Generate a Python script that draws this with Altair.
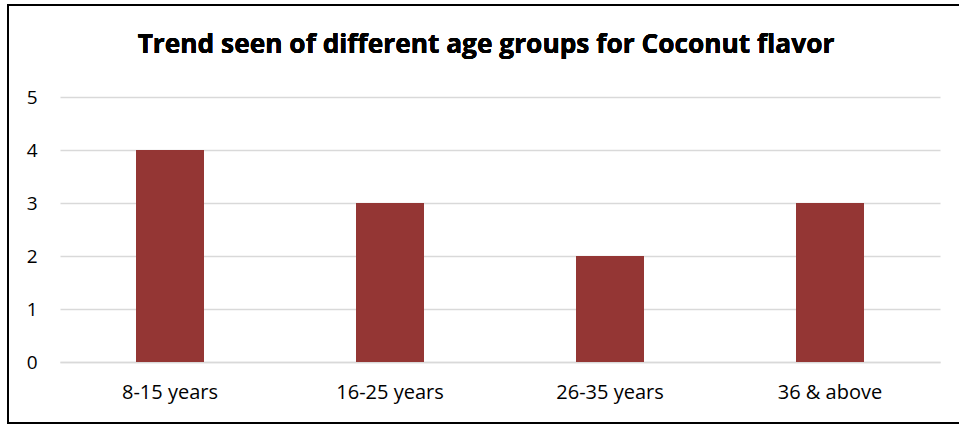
import altair as alt
import pandas as pd

categories = ["8-15 years", "16-25 years", "26-35 years", "36 & above"]
values = [4, 3, 2, 3]
title_text = "Trend seen of different age groups for Coconut flavor"

df = pd.DataFrame({"group": categories, "count": values})

FONT = "Open Sans"

bars = alt.Chart(df).mark_bar(color="#943634", size=68).encode(
    x=alt.X("group:N", sort=categories, title=None,
            scale=alt.Scale(paddingInner=0, paddingOuter=0),
            axis=alt.Axis(labelAngle=0, ticks=False, domain=True, domainColor="#d9d9d9",
                          domainWidth=1.5, labelPadding=20, labelFontSize=20,
                          labelColor="#000000", labelFont=FONT, grid=False)),
    y=alt.Y("count:Q", title=None,
            scale=alt.Scale(domain=[0, 5], nice=False),
            axis=alt.Axis(values=[0, 1, 2, 3, 4, 5], ticks=False, domain=False,
                          gridColor="#d9d9d9", gridWidth=1.5, labelPadding=23,
                          labelFontSize=19, labelColor="#000000", labelFont=FONT)),
)

border = alt.Chart(df).mark_rect(fill=None, stroke="#000000", strokeWidth=2, clip=False).encode(
    x=alt.value(-52), x2=alt.value(920), y=alt.value(-92), y2=alt.value(326)
)

title = alt.Chart(df).mark_text(fontSize=26.3, fontWeight="bold", font=FONT, color="#000000",
                                align="center", baseline="middle").encode(
    x=alt.value(426), y=alt.value(-52), text=alt.value(title_text)
)

chart = alt.layer(bars, border, title).properties(
    width=880, height=265,
    padding={"left": 60, "top": 97, "right": 19, "bottom": 62},
    autosize=alt.AutoSizeParams(type="none"),
    background="#ffffff",
).configure_view(strokeOpacity=0, strokeWidth=0)

chart.save("out.html", embed_options={"renderer": "svg", "actions": False})
